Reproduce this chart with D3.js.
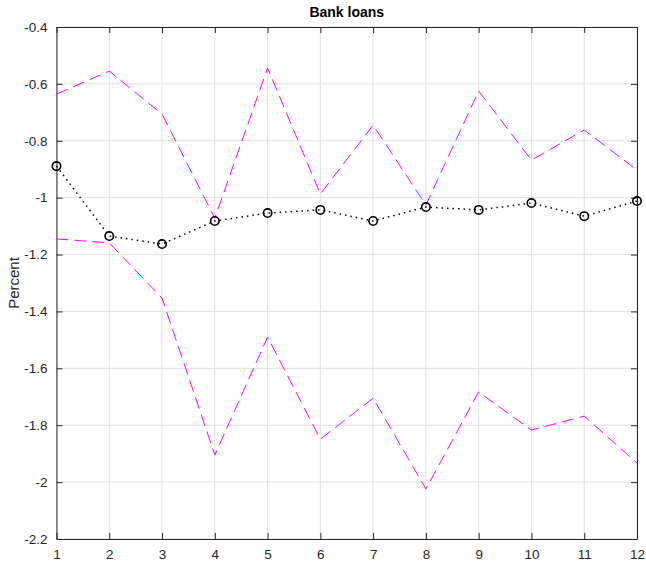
<!DOCTYPE html>
<html>
<head>
<meta charset="utf-8">
<script src="https://cdn.jsdelivr.net/npm/d3@7"></script>
<style>
  body { margin: 0; background: #fff; }
  text { font-family: "Liberation Sans", Arial, sans-serif; fill: #262626; }
</style>
</head>
<body>
<div id="graph"></div>
<script>
const horizons = [1, 2, 3, 4, 5, 6, 7, 8, 9, 10, 11, 12];
const median = [-0.889, -1.135, -1.163, -1.082, -1.054, -1.043, -1.082, -1.033, -1.043, -1.019, -1.065, -1.012];
const upper = [-0.636, -0.555, -0.706, -1.072, -0.544, -0.987, -0.745, -1.026, -0.625, -0.868, -0.762, -0.903];
const lower = [-1.145, -1.159, -1.353, -1.905, -1.49, -1.849, -1.705, -2.024, -1.683, -1.817, -1.768, -1.933];
const yTicks = [-0.4, -0.6, -0.8, -1, -1.2, -1.4, -1.6, -1.8, -2, -2.2];

const w = 646, h = 562;
const padding_left = 56.5, padding_right = 9, padding_top = 27, padding_bottom = 23;

const svg = d3.select('#graph').append('svg')
  .attr('width', w).attr('height', h);

const xScale = d3.scaleLinear().domain([1, 12]).range([padding_left, w - padding_right]);
const yScale = d3.scaleLinear().domain([-2.2, -0.4]).range([h - padding_bottom, padding_top]);

// grid
svg.append('g').selectAll('line').data(horizons).enter().append('line')
  .attr('x1', d => xScale(d)).attr('x2', d => xScale(d))
  .attr('y1', padding_top).attr('y2', h - padding_bottom)
  .attr('stroke', '#dfdfdf').attr('stroke-width', 1);
svg.append('g').selectAll('line').data(yTicks).enter().append('line')
  .attr('x1', padding_left).attr('x2', w - padding_right)
  .attr('y1', d => yScale(d)).attr('y2', d => yScale(d))
  .attr('stroke', '#dfdfdf').attr('stroke-width', 1);

// axes
const xAxis = d3.axisBottom(xScale).tickValues(horizons).tickFormat(d3.format('d')).tickSizeInner(-6).tickSizeOuter(0).tickPadding(10);
const yAxis = d3.axisLeft(yScale).tickValues(yTicks).tickFormat(d => d3.format('')(d).replace('−', '-')).tickSizeInner(-6).tickSizeOuter(0).tickPadding(9);
const xTop = d3.axisTop(xScale).tickValues(horizons).tickFormat('').tickSizeInner(-6).tickSizeOuter(0);
const yRight = d3.axisRight(yScale).tickValues(yTicks).tickFormat('').tickSizeInner(-6).tickSizeOuter(0);

function styleAxis(g) {
  g.select('.domain').attr('stroke', '#262626').attr('stroke-width', 1);
  g.selectAll('.tick line').attr('stroke', '#262626');
  g.selectAll('.tick text').attr('font-size', 13.5).attr('fill', '#262626')
    .attr('font-family', '"Liberation Sans", Arial, sans-serif');
}
svg.append('g').attr('transform', 'translate(0,' + (h - padding_bottom) + ')').call(xAxis).call(styleAxis);
svg.append('g').attr('transform', 'translate(' + padding_left + ',0)').call(yAxis).call(styleAxis);
svg.append('g').attr('transform', 'translate(0,' + padding_top + ')').call(xTop).call(styleAxis);
svg.append('g').attr('transform', 'translate(' + (w - padding_right) + ',0)').call(yRight).call(styleAxis);

const line = d3.line().x((d, i) => xScale(horizons[i])).y(d => yScale(d));

// bands
[upper, lower].forEach(s => {
  svg.append('path').datum(s).attr('d', line)
    .attr('fill', 'none').attr('stroke', '#ff00ff').attr('stroke-width', 1)
    .attr('stroke-dasharray', '12,6');
});

// median
svg.append('path').datum(median).attr('d', line)
  .attr('fill', 'none').attr('stroke', '#000').attr('stroke-width', 1.5)
  .attr('stroke-dasharray', '1.5,4');
svg.selectAll('circle').data(median).enter().append('circle')
  .attr('cx', (d, i) => xScale(horizons[i])).attr('cy', d => yScale(d))
  .attr('r', 4.2).attr('fill', 'none').attr('stroke', '#000').attr('stroke-width', 1.6);

// title
svg.append('text').text('Bank loans')
  .attr('x', (padding_left + w - padding_right) / 2).attr('y', 17)
  .attr('text-anchor', 'middle').attr('font-size', 14).attr('font-weight', 'bold')
  .style('fill', '#000');

// y-label
svg.append('text').text('Percent')
  .attr('transform', 'translate(19,' + ((padding_top + h - padding_bottom) / 2) + ') rotate(-90)')
  .attr('text-anchor', 'middle').attr('font-size', 15);
</script>
</body>
</html>
